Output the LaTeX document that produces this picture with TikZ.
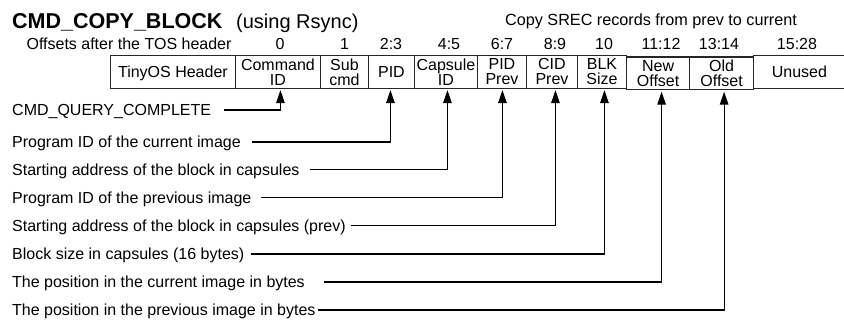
\documentclass[tikz,border=0pt]{standalone}
\usepackage{fontspec}
\setmainfont{Liberation Sans}
\usetikzlibrary{arrows.meta,calc}
\begin{document}
\begin{tikzpicture}[x=1pt,y=-1pt,
  cell/.style={draw=black!85, line width=0.9pt, minimum height=32.7pt, inner sep=0pt,
    anchor=north west, align=center, font=\fontsize{16}{15}\selectfont},
  single/.style={text height=11.5pt, text depth=0pt},
  lbl/.style={anchor=base west, inner sep=0pt, font=\fontsize{16}{19}\selectfont},
  off/.style={anchor=base, inner sep=0pt, font=\fontsize{16}{19}\selectfont},
  ptr/.style={line width=1.2pt, -{Triangle[length=13pt,width=8.5pt]}, shorten >=1.5pt}]
\useasboundingbox (0,0) rectangle (844,322);

% title
\node[anchor=base west, inner sep=0pt, font=\fontsize{21.5}{24}\selectfont\bfseries] (title) at (12,28) {CMD\_COPY\_BLOCK};
\node[anchor=base west, inner sep=0pt, font=\fontsize{20}{24}\selectfont] (using) at (236,28) {(using Rsync)};
\node[anchor=base, inner sep=0pt, font=\fontsize{16.2}{19}\selectfont] (copy) at (651,25) {Copy SREC records from prev to current};

% offsets row
\node[off] (offl) at (129,49) {Offsets after the TOS header};
\node[off] (o0) at (280,49) {0};
\node[off] (o1) at (344.5,49) {1};
\node[off] (o2) at (391,49) {2:3};
\node[off] (o4) at (449,49) {4:5};
\node[off] (o6) at (502,49) {6:7};
\node[off] (o8) at (555,49) {8:9};
\node[off] (o10) at (604,49) {10};
\node[off] (o11) at (661,49) {11:12};
\node[off] (o13) at (719,49) {13:14};
\node[off] (o15) at (797,49) {15:28};

% packet cells
\node[cell, single, minimum width=125pt] (tos) at (110,55) {TinyOS Header};
\node[cell, minimum width=85pt] (cmd) at (235,55) {Command\\ID};
\node[cell, minimum width=48pt] (sub) at (320,55) {Sub\\cmd};
\node[cell, single, minimum width=46pt] (pid) at (368,55) {PID};
\node[cell, minimum width=63pt] (cap) at (414,55) {Capsule\\ID};
\node[cell, minimum width=49pt] (pidp) at (477,55) {PID\\Prev};
\node[cell, minimum width=51pt] (cidp) at (526,55) {CID\\Prev};
\node[cell, minimum width=49pt] (blk) at (577,55) {BLK\\Size};
\node[cell, single, minimum width=100pt] (unused) at (753,55) {\hspace*{-8pt}Unused};
\node[cell, line width=1.2pt, minimum width=63pt] (new) at (626,56.3) {New\\Offset};
\node[cell, line width=1.2pt, minimum width=64pt] (old) at (689,56.3) {Old\\Offset};

% descriptions
\node[lbl] (d1) at (12,115.7) {CMD\_QUERY\_COMPLETE};
\node[lbl] (d2) at (12,147.7) {Program ID of the current image};
\node[lbl] (d3) at (12,175.2) {Starting address of the block in capsules};
\node[lbl] (d4) at (12,203.2) {Program ID of the previous image};
\node[lbl] (d5) at (12,231.2) {Starting address of the block in capsules (prev)};
\node[lbl] (d6) at (12,259.7) {Block size in capsules (16 bytes)};
\node[lbl] (d7) at (12,287.7) {The position in the current image in bytes};
\node[lbl] (d8) at (12,315.7) {The position in the previous image in bytes};

\coordinate (s1) at (224,110);
\coordinate (s2) at (252,142);
\coordinate (s3) at (310,169.5);
\coordinate (s4) at (261,197.5);
\coordinate (s5) at (351,225.5);
\coordinate (s6) at (251,254);
\coordinate (s7) at (324,282);
\coordinate (s8) at (318,310);

\draw[ptr] (s1) -| ([xshift=2.5pt]cmd.south);
\draw[ptr] (s2) -| ([xshift=-1pt]pid.south);
\draw[ptr] (s3) -| ([xshift=1.5pt]cap.south);
\draw[ptr] (s4) -| ([xshift=0.5pt]pidp.south);
\draw[ptr] (s5) -| ([xshift=3.5pt]cidp.south);
\draw[ptr] (s6) -| ([xshift=2.5pt]blk.south);
\draw[ptr] (s7) -| ([xshift=3.5pt]new.south);
\draw[ptr] (s8) -| ([xshift=2.5pt]old.south);
\end{tikzpicture}
\end{document}
